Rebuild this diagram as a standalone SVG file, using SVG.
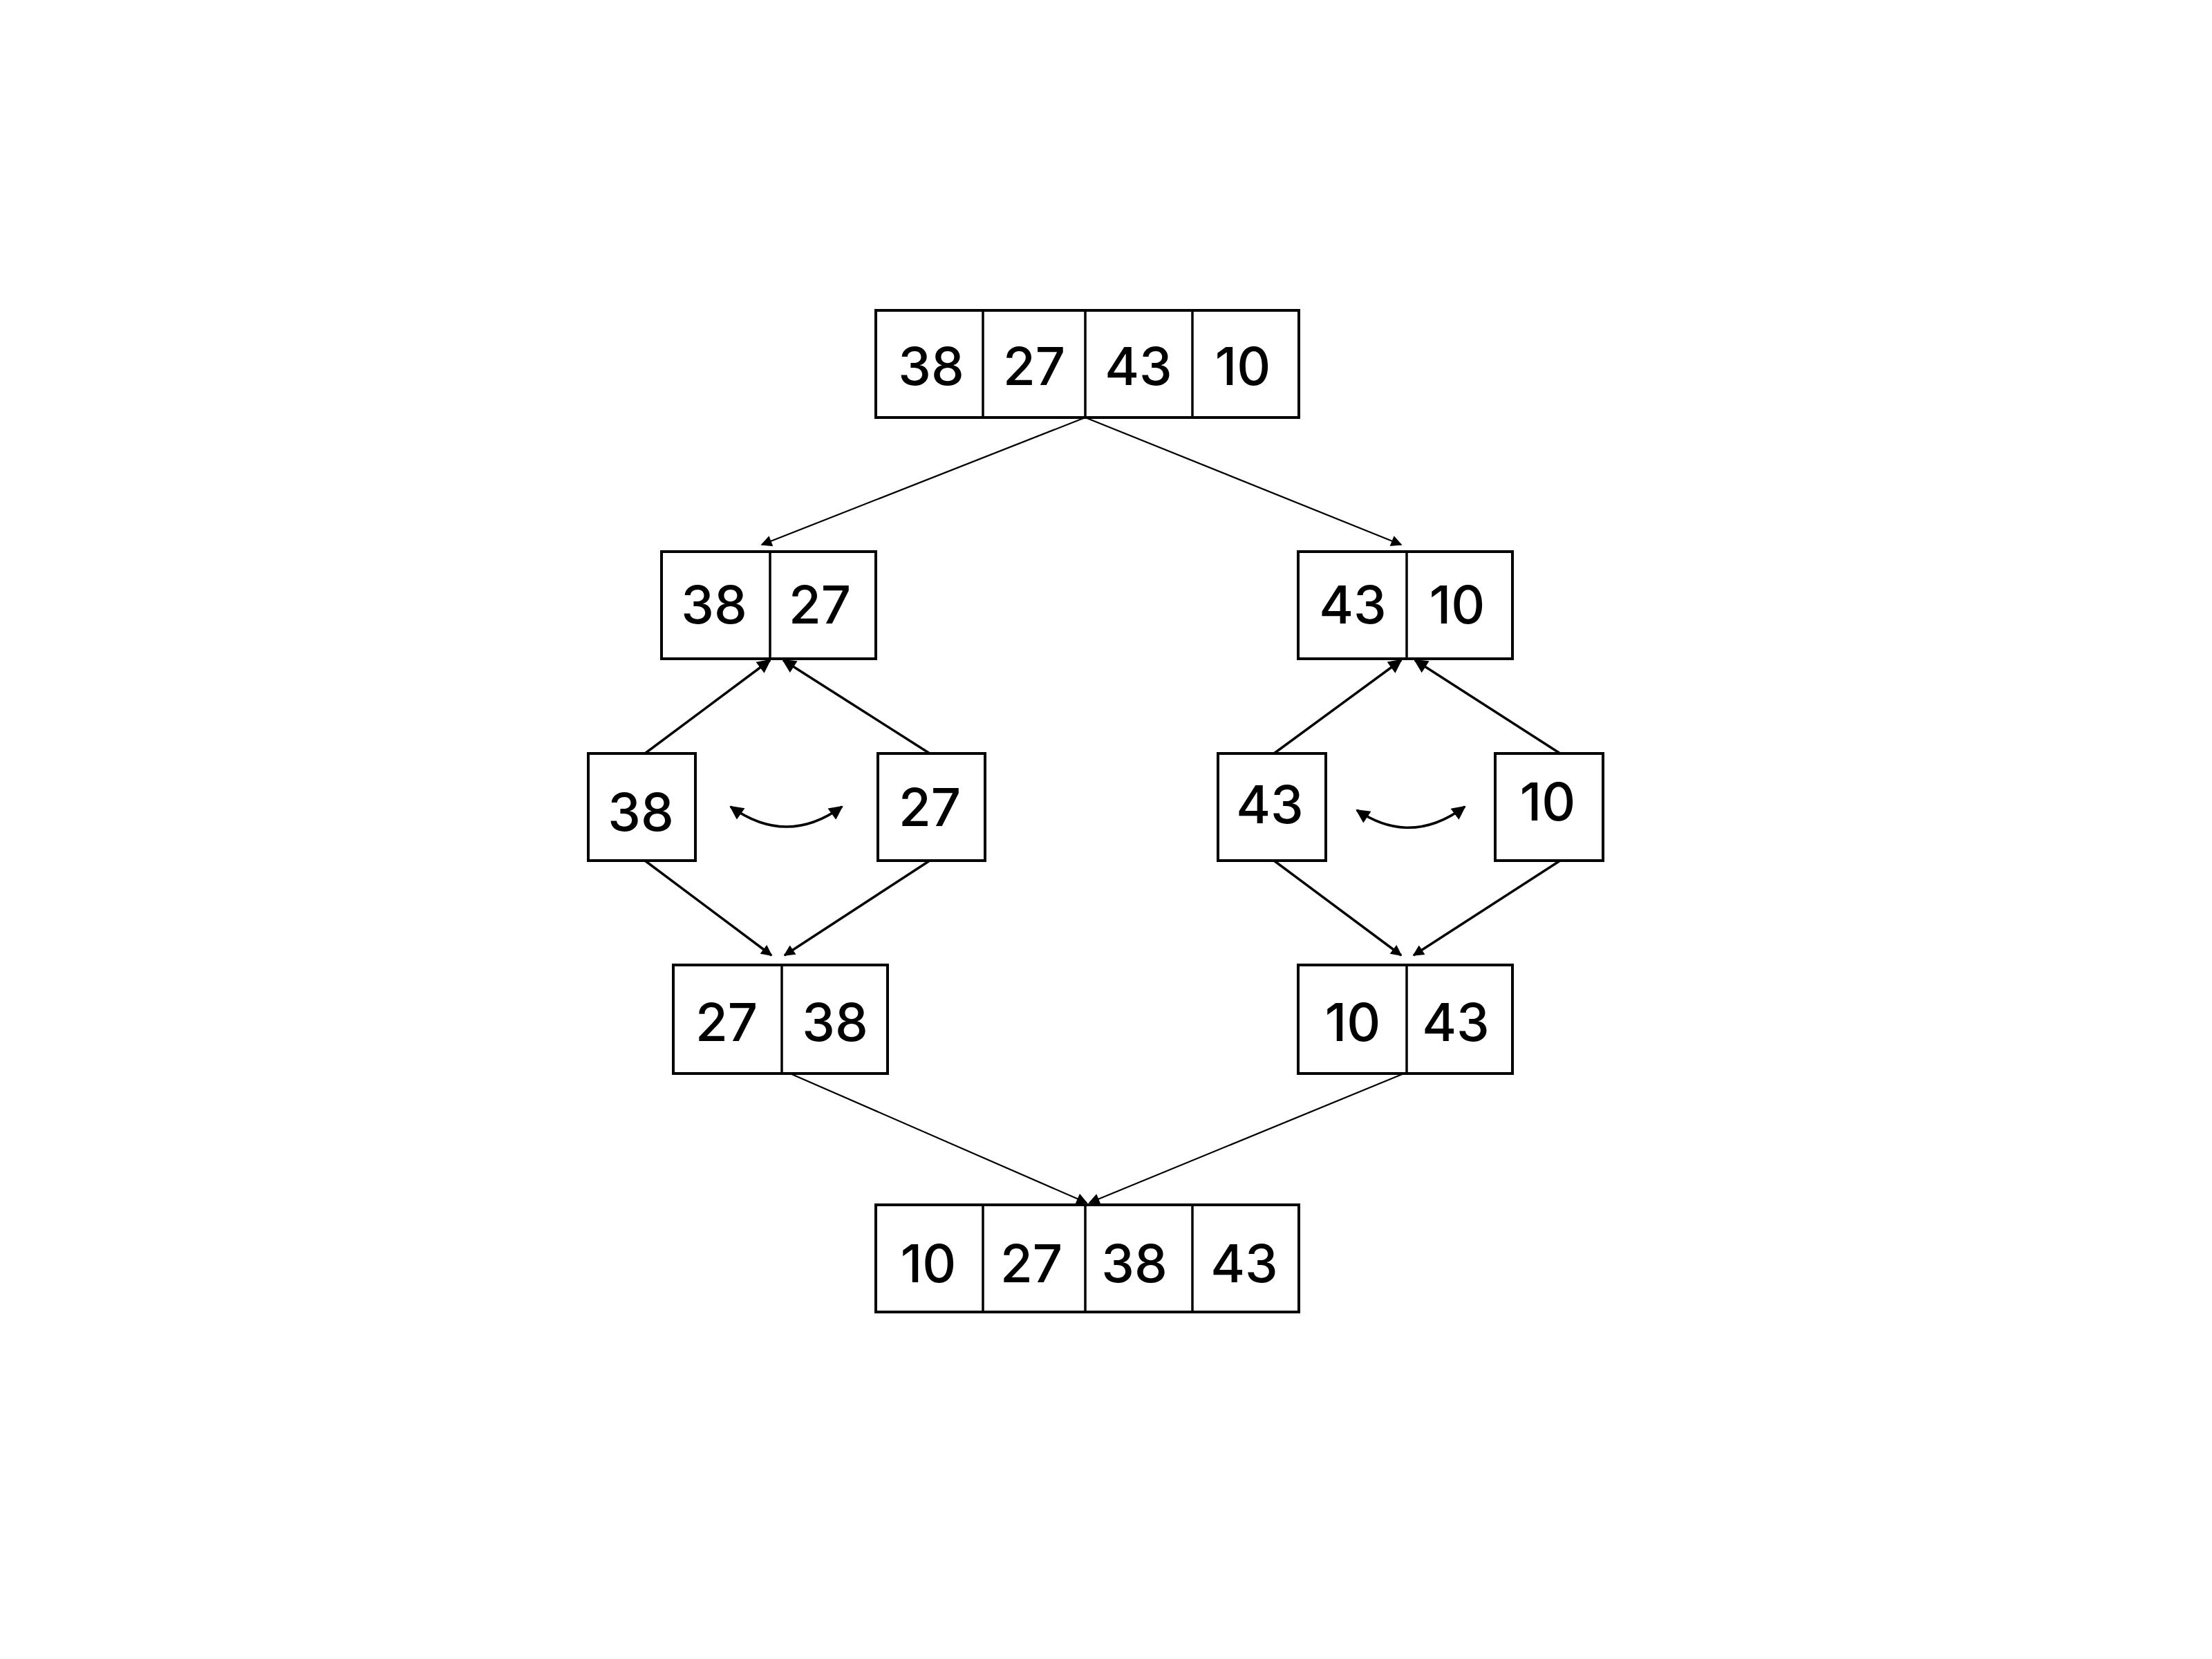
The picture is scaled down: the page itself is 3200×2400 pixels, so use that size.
<svg xmlns="http://www.w3.org/2000/svg" width="3200" height="2400" viewBox="0 0 3200 2400">
<defs>
<style>
.box{fill:#fff;stroke:#000;stroke-width:4}
.div{stroke:#000;stroke-width:3.5}
.t{font-family:Inter,"Noto Sans",sans-serif;font-size:76px;font-weight:500;fill:#000;text-anchor:middle;dominant-baseline:central}
.thin{stroke:#000;stroke-width:2.2;fill:none}
.mid{stroke:#000;stroke-width:3.5;fill:none}
</style>
<marker id="ah" viewBox="0 0 10 10" refX="9" refY="5" markerWidth="18" markerHeight="16" markerUnits="userSpaceOnUse" orient="auto">
<path d="M0,0 L10,5 L0,10 Z" fill="#000"/>
</marker>
<marker id="ah2" viewBox="0 0 10 10" refX="9" refY="5" markerWidth="24" markerHeight="20" markerUnits="userSpaceOnUse" orient="auto-start-reverse">
<path d="M0,0 L10,5 L0,10 Z" fill="#000"/>
</marker>
</defs>
<rect width="3200" height="2400" fill="#fff"/>

<g id="connectors">
<line class="thin" x1="1570" y1="604" x2="1102" y2="788" marker-end="url(#ah)"/>
<line class="thin" x1="1570" y1="604" x2="2027" y2="788" marker-end="url(#ah)"/>
<line class="mid" x1="933" y1="1090" x2="1114" y2="955" marker-end="url(#ah2)"/>
<line class="mid" x1="1345" y1="1090" x2="1133" y2="955" marker-end="url(#ah2)"/>
<line class="mid" x1="1843" y1="1090" x2="2027" y2="955" marker-end="url(#ah2)"/>
<line class="mid" x1="2257" y1="1090" x2="2047" y2="955" marker-end="url(#ah2)"/>
<line class="mid" x1="933" y1="1245" x2="1116" y2="1382" marker-end="url(#ah)"/>
<line class="mid" x1="1345" y1="1245" x2="1135" y2="1382" marker-end="url(#ah)"/>
<line class="mid" x1="1843" y1="1245" x2="2027" y2="1382" marker-end="url(#ah)"/>
<line class="mid" x1="2257" y1="1245" x2="2045" y2="1382" marker-end="url(#ah)"/>
<line class="thin" x1="1143" y1="1553" x2="1572" y2="1740" marker-end="url(#ah)"/>
<line class="thin" x1="2031" y1="1553" x2="1576" y2="1740" marker-end="url(#ah)"/>
<path class="mid" d="M1057,1167 Q1138,1225 1218,1167" marker-start="url(#ah2)" marker-end="url(#ah2)"/>
<path class="mid" d="M1963,1172 Q2041,1225 2119,1167" marker-start="url(#ah2)" marker-end="url(#ah2)"/>
</g>

<g id="top">
<rect class="box" x="1267" y="449" width="612" height="155"/>
<line class="div" x1="1422" y1="449" x2="1422" y2="604"/>
<line class="div" x1="1570" y1="449" x2="1570" y2="604"/>
<line class="div" x1="1725" y1="449" x2="1725" y2="604"/>
<text class="t" x="1347" y="529">38</text>
<text class="t" x="1496" y="529">27</text>
<text class="t" x="1647" y="529">43</text>
<text class="t" x="1798" y="529">10</text>
</g>

<g id="left2">
<rect class="box" x="957" y="798" width="310" height="155"/>
<line class="div" x1="1114" y1="798" x2="1114" y2="953"/>
<text class="t" x="1033" y="874">38</text>
<text class="t" x="1186" y="874">27</text>
</g>

<g id="right2">
<rect class="box" x="1878" y="798" width="310" height="155"/>
<line class="div" x1="2035" y1="798" x2="2035" y2="953"/>
<text class="t" x="1957" y="874">43</text>
<text class="t" x="2108" y="874">10</text>
</g>

<g id="n38">
<rect class="box" x="851" y="1090" width="155" height="155"/>
<text class="t" x="927" y="1174">38</text>
</g>
<g id="n27">
<rect class="box" x="1270" y="1090" width="155" height="155"/>
<text class="t" x="1345" y="1167">27</text>
</g>
<g id="n43">
<rect class="box" x="1762" y="1090" width="156" height="155"/>
<text class="t" x="1837" y="1163">43</text>
</g>
<g id="n10">
<rect class="box" x="2163" y="1090" width="156" height="155"/>
<text class="t" x="2239" y="1159">10</text>
</g>

<g id="left4">
<rect class="box" x="974" y="1396" width="310" height="157"/>
<line class="div" x1="1131" y1="1396" x2="1131" y2="1553"/>
<text class="t" x="1051" y="1478">27</text>
<text class="t" x="1208" y="1478">38</text>
</g>

<g id="right4">
<rect class="box" x="1878" y="1396" width="310" height="157"/>
<line class="div" x1="2035" y1="1396" x2="2035" y2="1553"/>
<text class="t" x="1957" y="1478">10</text>
<text class="t" x="2106" y="1478">43</text>
</g>

<g id="bottom">
<rect class="box" x="1267" y="1743" width="612" height="155"/>
<line class="div" x1="1422" y1="1743" x2="1422" y2="1898"/>
<line class="div" x1="1570" y1="1743" x2="1570" y2="1898"/>
<line class="div" x1="1725" y1="1743" x2="1725" y2="1898"/>
<text class="t" x="1343" y="1827">10</text>
<text class="t" x="1492" y="1827">27</text>
<text class="t" x="1641" y="1827">38</text>
<text class="t" x="1800" y="1827">43</text>
</g>
</svg>
